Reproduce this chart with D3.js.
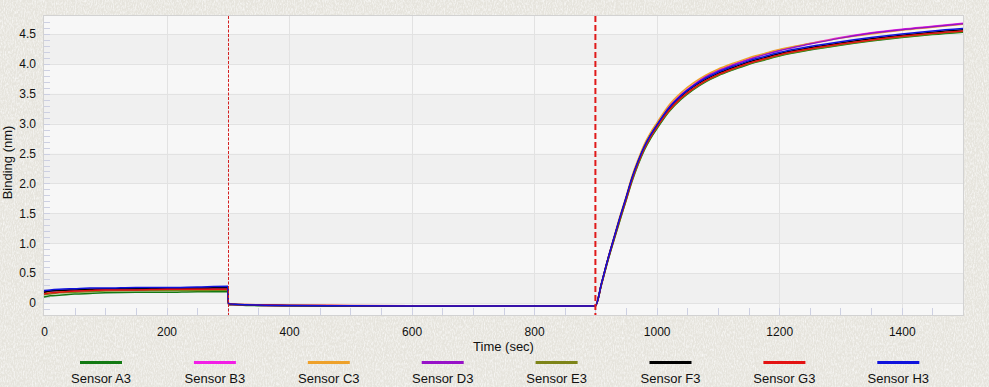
<!DOCTYPE html>
<html>
<head>
<meta charset="utf-8">
<script src="https://cdn.jsdelivr.net/npm/d3@7"></script>
<style>
  html, body { margin: 0; padding: 0; background: #eae8e2; }
  svg { display: block; }
  text { font-family: "Liberation Sans", Arial, sans-serif; fill: #111; }
</style>
</head>
<body>
<div id="container"></div>
<script>
const w = 989;
const h = 387;

// sample times (sec): baseline, dissociation, association
const times = [
  0, 10, 25, 50, 75, 100, 150, 200, 250, 300,
  301, 310, 330, 360, 400, 500, 600, 700, 800, 899,
  900, 910, 920, 930, 940, 950, 960, 970, 980, 990, 1000, 1020, 1040, 1060,
  1080, 1100, 1125, 1150, 1175, 1200, 1250, 1300, 1350, 1400, 1450, 1500
];

const sensors = ["Sensor A3", "Sensor B3", "Sensor C3", "Sensor D3", "Sensor E3", "Sensor F3", "Sensor G3", "Sensor H3"];
const colors = ["#137a13", "#f21ee6", "#eea12a", "#9712c8", "#7d8418", "#000000", "#e31212", "#0f12dc"];

const sensorA3 = [
  0.10, 0.12, 0.13, 0.15, 0.16, 0.17, 0.18, 0.18, 0.19, 0.19,
  -0.03, -0.035, -0.04, -0.045, -0.05, -0.05, -0.05, -0.055, -0.055, -0.055,
  -0.05, 0.31, 0.69, 1.04, 1.38, 1.71, 2.04, 2.32, 2.56, 2.75, 2.91, 3.20, 3.41, 3.57,
  3.70, 3.80, 3.90, 3.99, 4.06, 4.13, 4.23, 4.31, 4.38, 4.44, 4.49, 4.53
];
const sensorB3 = [
  0.16, 0.17, 0.18, 0.20, 0.21, 0.22, 0.23, 0.23, 0.23, 0.24,
  -0.02, -0.03, -0.035, -0.04, -0.045, -0.05, -0.05, -0.05, -0.05, -0.05,
  -0.05, 0.33, 0.72, 1.08, 1.43, 1.76, 2.11, 2.39, 2.63, 2.82, 2.98, 3.28, 3.49, 3.65,
  3.79, 3.89, 3.99, 4.08, 4.16, 4.23, 4.34, 4.44, 4.52, 4.58, 4.63, 4.68
];
const sensorC3 = [
  0.17, 0.18, 0.19, 0.21, 0.22, 0.23, 0.24, 0.24, 0.24, 0.24,
  -0.01, -0.02, -0.03, -0.035, -0.04, -0.045, -0.05, -0.05, -0.05, -0.05,
  -0.05, 0.33, 0.73, 1.09, 1.45, 1.78, 2.13, 2.41, 2.66, 2.85, 3.01, 3.31, 3.52, 3.68,
  3.81, 3.91, 4.01, 4.10, 4.17, 4.24, 4.34, 4.43, 4.50, 4.56, 4.61, 4.66
];
const sensorD3 = [
  0.19, 0.20, 0.21, 0.22, 0.23, 0.23, 0.24, 0.24, 0.25, 0.25,
  -0.02, -0.03, -0.035, -0.04, -0.045, -0.05, -0.05, -0.055, -0.055, -0.055,
  -0.05, 0.32, 0.71, 1.07, 1.42, 1.75, 2.09, 2.37, 2.61, 2.80, 2.96, 3.27, 3.48, 3.64,
  3.78, 3.88, 3.98, 4.07, 4.15, 4.22, 4.33, 4.43, 4.51, 4.57, 4.62, 4.67
];
const sensorE3 = [
  0.14, 0.15, 0.17, 0.18, 0.19, 0.20, 0.21, 0.21, 0.21, 0.22,
  -0.02, -0.03, -0.035, -0.04, -0.045, -0.05, -0.05, -0.05, -0.05, -0.05,
  -0.05, 0.31, 0.70, 1.05, 1.39, 1.72, 2.06, 2.34, 2.58, 2.77, 2.93, 3.21, 3.42, 3.58,
  3.71, 3.81, 3.91, 4.00, 4.07, 4.14, 4.24, 4.32, 4.39, 4.45, 4.50, 4.54
];
const sensorF3 = [
  0.18, 0.20, 0.21, 0.22, 0.23, 0.24, 0.24, 0.25, 0.25, 0.26,
  -0.01, -0.02, -0.03, -0.035, -0.04, -0.045, -0.05, -0.05, -0.05, -0.05,
  -0.05, 0.33, 0.72, 1.07, 1.42, 1.75, 2.09, 2.37, 2.61, 2.80, 2.96, 3.25, 3.46, 3.62,
  3.74, 3.84, 3.94, 4.03, 4.10, 4.17, 4.27, 4.35, 4.42, 4.48, 4.53, 4.57
];
const sensorG3 = [
  0.15, 0.17, 0.18, 0.20, 0.21, 0.22, 0.22, 0.23, 0.23, 0.23,
  -0.01, -0.02, -0.025, -0.03, -0.035, -0.04, -0.045, -0.045, -0.05, -0.05,
  -0.05, 0.32, 0.71, 1.06, 1.41, 1.73, 2.07, 2.35, 2.59, 2.78, 2.94, 3.22, 3.43, 3.59,
  3.72, 3.82, 3.92, 4.01, 4.08, 4.15, 4.25, 4.33, 4.40, 4.46, 4.51, 4.55
];
const sensorH3 = [
  0.21, 0.22, 0.23, 0.24, 0.25, 0.25, 0.26, 0.26, 0.27, 0.28,
  -0.01, -0.02, -0.03, -0.035, -0.04, -0.045, -0.05, -0.05, -0.05, -0.05,
  -0.05, 0.33, 0.72, 1.08, 1.43, 1.76, 2.10, 2.38, 2.62, 2.81, 2.97, 3.26, 3.47, 3.63,
  3.76, 3.86, 3.96, 4.05, 4.12, 4.19, 4.29, 4.37, 4.44, 4.50, 4.55, 4.59
];
const seriesValues = [sensorA3, sensorB3, sensorC3, sensorD3, sensorE3, sensorF3, sensorG3, sensorH3];

const xTicks = [0, 200, 400, 600, 800, 1000, 1200, 1400];
const yTicks = [0, 0.5, 1.0, 1.5, 2.0, 2.5, 3.0, 3.5, 4.0, 4.5];
const stepTimes = [300, 900];

const plot = { left: 44, top: 16, right: 963, bottom: 315 };

const xScale = d3.scaleLinear().domain([0, 1500]).range([plot.left, plot.right]);
const yScale = d3.scaleLinear().domain([-0.2, 4.8]).range([plot.bottom, plot.top]);

const svg = d3.select("#container")
  .append("svg")
  .attr("width", w)
  .attr("height", h);

// paper texture background
const defs = svg.append("defs");
const paper = defs.append("filter").attr("id", "paper").attr("x", 0).attr("y", 0).attr("width", "100%").attr("height", "100%");
paper.append("feTurbulence").attr("type", "fractalNoise").attr("baseFrequency", "0.9 0.35").attr("numOctaves", 3).attr("seed", 4).attr("result", "noise");
paper.append("feColorMatrix").attr("in", "noise").attr("type", "matrix")
  .attr("values", "0 0 0 0 1  0 0 0 0 1  0 0 0 0 1  1.4 0 0 0 -0.55")
  .attr("result", "speck");
paper.append("feFlood").attr("flood-color", "#e6e4dd").attr("result", "base");
paper.append("feMerge").call(m => {
  m.append("feMergeNode").attr("in", "base");
  m.append("feMergeNode").attr("in", "speck");
});
svg.append("rect").attr("width", w).attr("height", h).attr("filter", "url(#paper)");

// alternating bands
const bands = d3.range(0, 5).map(k => [k, k + 0.5]);
svg.append("rect")
  .attr("x", plot.left).attr("y", plot.top)
  .attr("width", plot.right - plot.left).attr("height", plot.bottom - plot.top)
  .attr("fill", "#f7f7f7");
svg.append("g").selectAll("rect").data(bands).join("rect")
  .attr("x", plot.left)
  .attr("y", d => yScale(d[1]))
  .attr("width", plot.right - plot.left)
  .attr("height", d => yScale(d[0]) - yScale(d[1]))
  .attr("fill", "#f0f0f0");

// grid
svg.append("g").selectAll("line").data(yTicks).join("line")
  .attr("x1", plot.left).attr("x2", plot.right)
  .attr("y1", d => Math.round(yScale(d)) + 0.5).attr("y2", d => Math.round(yScale(d)) + 0.5)
  .attr("stroke", "#e2e2e2");
svg.append("g").selectAll("line").data(xTicks.slice(1)).join("line")
  .attr("y1", plot.top).attr("y2", plot.bottom)
  .attr("x1", d => Math.round(xScale(d)) + 0.5).attr("x2", d => Math.round(xScale(d)) + 0.5)
  .attr("stroke", "#e2e2e2");

// minor ticks
svg.append("g").selectAll("line").data(d3.range(-2, 48).map(i => i / 10)).join("line")
  .attr("x1", plot.left).attr("x2", plot.left + 6)
  .attr("y1", d => Math.round(yScale(d)) + 0.5).attr("y2", d => Math.round(yScale(d)) + 0.5)
  .attr("stroke", "#cdd0e2");
svg.append("g").selectAll("line").data(d3.range(50, 1500, 50)).join("line")
  .attr("y1", plot.bottom).attr("y2", plot.bottom - 7)
  .attr("x1", d => Math.round(xScale(d)) + 0.5).attr("x2", d => Math.round(xScale(d)) + 0.5)
  .attr("stroke", "#cdd0e2");

// border
svg.append("rect")
  .attr("x", plot.left - 0.5).attr("y", plot.top - 0.5)
  .attr("width", plot.right - plot.left + 1).attr("height", plot.bottom - plot.top + 1)
  .attr("fill", "none").attr("stroke", "#d2d2d2");

// curves
const line = d3.line()
  .x((d, i) => xScale(times[i]))
  .y(d => yScale(d))
  .curve(d3.curveMonotoneX);

svg.append("g").selectAll("path").data(seriesValues).join("path")
  .attr("d", d => line(d))
  .attr("fill", "none")
  .attr("stroke", (d, i) => colors[i])
  .attr("stroke-width", 1.5);

// step markers
svg.append("line")
  .attr("x1", Math.round(xScale(stepTimes[0])) + 0.5).attr("x2", Math.round(xScale(stepTimes[0])) + 0.5)
  .attr("y1", plot.top).attr("y2", plot.bottom)
  .attr("stroke", "#d42020").attr("stroke-width", 1).attr("stroke-dasharray", "3,1.5");
svg.append("line")
  .attr("x1", xScale(stepTimes[1])).attr("x2", xScale(stepTimes[1]))
  .attr("y1", plot.top).attr("y2", plot.bottom)
  .attr("stroke", "#e01a1a").attr("stroke-width", 2).attr("stroke-dasharray", "6,3");

// axes
const xAxis = svg.append("g")
  .attr("transform", `translate(0,${plot.bottom})`)
  .call(d3.axisBottom(xScale).tickValues(xTicks).tickSize(0).tickPadding(12).tickFormat(d3.format("d")));
const yAxis = svg.append("g")
  .attr("transform", `translate(${plot.left},0)`)
  .call(d3.axisLeft(yScale).tickValues(yTicks).tickSize(0).tickPadding(8)
    .tickFormat(d => d === 0 ? "0" : d3.format(".1f")(d)));
[xAxis, yAxis].forEach(g => {
  g.select(".domain").remove();
  g.selectAll("text").attr("font-size", 12).attr("fill", "#111")
    .attr("font-family", "'Liberation Sans', Arial, sans-serif");
});

svg.append("text")
  .attr("x", (plot.left + plot.right) / 2)
  .attr("y", 351)
  .attr("text-anchor", "middle")
  .attr("font-size", 13)
  .text("Time (sec)");

svg.append("text")
  .attr("transform", `translate(12,${(plot.top + plot.bottom) / 2 - 3}) rotate(-90)`)
  .attr("text-anchor", "middle")
  .attr("font-size", 13)
  .text("Binding (nm)");

// legend
const legend = svg.append("g").selectAll("g").data(sensors).join("g")
  .attr("transform", (d, i) => `translate(${101 + i * 113.9},0)`);
legend.append("line")
  .attr("x1", -21).attr("x2", 21)
  .attr("y1", 362.5).attr("y2", 362.5)
  .attr("stroke", (d, i) => colors[i])
  .attr("stroke-width", 3);
legend.append("text")
  .attr("y", 383)
  .attr("text-anchor", "middle")
  .attr("font-size", 13)
  .text(d => d);
</script>
</body>
</html>
